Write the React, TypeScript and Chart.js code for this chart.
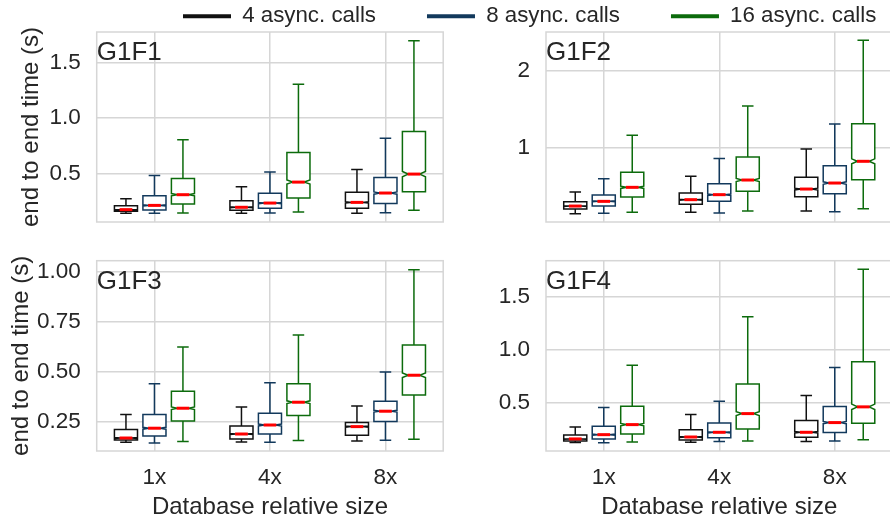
import React, { useEffect, useRef } from 'react';
import { Chart, registerables } from 'chart.js';

Chart.register(...registerables);

// ---------------- data ----------------
const CATEGORIES = ['1x', '4x', '8x'];
const SERIES = ['4 async. calls', '8 async. calls', '16 async. calls'];
const PANEL_TITLES = ['G1F1', 'G1F2', 'G1F3', 'G1F4'];
const Y_TITLE = 'end to end time (s)';
const X_TITLE = 'Database relative size';
const NOTCH_SAMPLES = 1250;

// each stat array: [series][category]
const G1F1_LOW = [[0.145, 0.145, 0.145], [0.145, 0.148, 0.151], [0.148, 0.157, 0.172]];
const G1F1_Q1 = [[0.163, 0.172, 0.19], [0.175, 0.19, 0.234], [0.228, 0.282, 0.339]];
const G1F1_MED = [[0.178, 0.199, 0.243], [0.216, 0.237, 0.327], [0.312, 0.425, 0.497]];
const G1F1_Q3 = [[0.213, 0.258, 0.333], [0.303, 0.324, 0.467], [0.458, 0.691, 0.879]];
const G1F1_HIGH = [[0.276, 0.384, 0.539], [0.485, 0.515, 0.819], [0.804, 1.303, 1.694]];
const G1F1_TICKS = ['0.5', '1.0', '1.5'];
const G1F1_RANGE = [0.067, 1.772];

const G1F2_LOW = [[0.143, 0.16, 0.177], [0.147, 0.152, 0.169], [0.16, 0.177, 0.208]];
const G1F2_Q1 = [[0.203, 0.264, 0.364], [0.242, 0.303, 0.403], [0.359, 0.433, 0.584]];
const G1F2_MED = [[0.242, 0.325, 0.463], [0.303, 0.39, 0.541], [0.485, 0.58, 0.823]];
const G1F2_Q3 = [[0.299, 0.411, 0.615], [0.385, 0.532, 0.766], [0.68, 0.879, 1.312]];
const G1F2_HIGH = [[0.424, 0.628, 0.983], [0.597, 0.861, 1.307], [1.16, 1.541, 2.394]];
const G1F2_TICKS = ['1', '2'];
const G1F2_RANGE = [0.035, 2.502];

const G1F3_LOW = [[0.147, 0.148, 0.153], [0.143, 0.147, 0.157], [0.15, 0.155, 0.162]];
const G1F3_Q1 = [[0.158, 0.163, 0.182], [0.178, 0.188, 0.25], [0.253, 0.28, 0.383]];
const G1F3_MED = [[0.168, 0.188, 0.225], [0.217, 0.233, 0.302], [0.317, 0.347, 0.482]];
const G1F3_Q3 = [[0.21, 0.228, 0.245], [0.285, 0.292, 0.352], [0.402, 0.44, 0.633]];
const G1F3_HIGH = [[0.285, 0.323, 0.328], [0.44, 0.445, 0.498], [0.623, 0.683, 1.01]];
const G1F3_TICKS = ['0.25', '0.50', '0.75', '1.00'];
const G1F3_RANGE = [0.103, 1.055];

const G1F4_LOW = [[0.133, 0.135, 0.141], [0.13, 0.141, 0.147], [0.137, 0.147, 0.159]];
const G1F4_Q1 = [[0.147, 0.156, 0.181], [0.166, 0.178, 0.225], [0.213, 0.259, 0.313]];
const G1F4_MED = [[0.166, 0.184, 0.228], [0.206, 0.228, 0.319], [0.3, 0.403, 0.466]];
const G1F4_Q3 = [[0.203, 0.253, 0.338], [0.284, 0.316, 0.469], [0.472, 0.681, 0.888]];
const G1F4_HIGH = [[0.278, 0.394, 0.572], [0.459, 0.519, 0.834], [0.856, 1.309, 1.753]];
const G1F4_TICKS = ['0.5', '1.0', '1.5'];
const G1F4_RANGE = [0.053, 1.834];

// ---------------- styles ----------------
const FONT = '"Liberation Sans", Arial, Helvetica, sans-serif';
const TEXT = '#262626';
const GRID = '#d6d6d6';
const COLORS = ['#111111', '#12395c', '#0c6b0c'];
const MEDIAN_RED = '#ff0000';

type Stats = { low: number[][]; q1: number[][]; med: number[][]; q3: number[][]; high: number[][] };

type PanelSpec = {
  title: string;
  stats: Stats;
  ticks: string[];
  range: number[];
  left: number;
  top: number;
  width: number;
  height: number;
  pad: { top: number; right: number; bottom: number; left: number };
  yWidth: number;
  xHeight: number;
  showX: boolean;
  showYTitle: boolean;
  yTitlePad: number;
};

const PANELS: PanelSpec[] = [
  {
    title: PANEL_TITLES[0],
    stats: { low: G1F1_LOW, q1: G1F1_Q1, med: G1F1_MED, q3: G1F1_Q3, high: G1F1_HIGH },
    ticks: G1F1_TICKS, range: G1F1_RANGE,
    left: 0, top: 22, width: 450, height: 210,
    pad: { top: 10, right: 6.8, bottom: 10, left: 0 }, yWidth: 96.7, xHeight: 0,
    showX: false, showYTitle: true, yTitlePad: 16.5,
  },
  {
    title: PANEL_TITLES[1],
    stats: { low: G1F2_LOW, q1: G1F2_Q1, med: G1F2_MED, q3: G1F2_Q3, high: G1F2_HIGH },
    ticks: G1F2_TICKS, range: G1F2_RANGE,
    left: 450, top: 22, width: 450, height: 210,
    pad: { top: 10, right: 7.5, bottom: 10, left: 0 }, yWidth: 96, xHeight: 0,
    showX: false, showYTitle: false, yTitlePad: 0,
  },
  {
    title: PANEL_TITLES[2],
    stats: { low: G1F3_LOW, q1: G1F3_Q1, med: G1F3_MED, q3: G1F3_Q3, high: G1F3_HIGH },
    ticks: G1F3_TICKS, range: G1F3_RANGE,
    left: 0, top: 250, width: 450, height: 272,
    pad: { top: 10.7, right: 6.8, bottom: 0, left: 0 }, yWidth: 96.7, xHeight: 71,
    showX: true, showYTitle: true, yTitlePad: 6.5,
  },
  {
    title: PANEL_TITLES[3],
    stats: { low: G1F4_LOW, q1: G1F4_Q1, med: G1F4_MED, q3: G1F4_Q3, high: G1F4_HIGH },
    ticks: G1F4_TICKS, range: G1F4_RANGE,
    left: 450, top: 250, width: 450, height: 272,
    pad: { top: 10.7, right: 7.5, bottom: 0, left: 0 }, yWidth: 96, xHeight: 71,
    showX: true, showYTitle: false, yTitlePad: 0,
  },
];

function makePanel(canvas: HTMLCanvasElement, spec: PanelSpec) {
  const { stats } = spec;
  const tickVals = spec.ticks.map((t) => parseFloat(t));

  const boxPlugin = {
    id: 'boxes_' + spec.title,
    beforeDatasetsDraw(chart: any) {
      const { ctx, chartArea } = chart;
      ctx.save();
      ctx.strokeStyle = GRID;
      ctx.lineWidth = 1.5;
      ctx.strokeRect(chartArea.left, chartArea.top, chartArea.right - chartArea.left, chartArea.bottom - chartArea.top);
      ctx.restore();
    },
    afterDatasetsDraw(chart: any) {
      const { ctx, chartArea } = chart;
      const ys = chart.scales.y;
      ctx.save();
      for (let s = 0; s < SERIES.length; s++) {
        const meta = chart.getDatasetMeta(s);
        meta.data.forEach((bar: any, c: number) => {
          const { x, width } = bar.getProps(['x', 'width'], true);
          const half = width / 2;
          const capHalf = width / 4;
          const q1v = stats.q1[s][c];
          const q3v = stats.q3[s][c];
          const medv = stats.med[s][c];
          const notch = (1.57 * (q3v - q1v)) / Math.sqrt(NOTCH_SAMPLES);
          const pLow = ys.getPixelForValue(stats.low[s][c]);
          const pHigh = ys.getPixelForValue(stats.high[s][c]);
          const pQ1 = ys.getPixelForValue(q1v);
          const pQ3 = ys.getPixelForValue(q3v);
          const pMed = ys.getPixelForValue(medv);
          const pNLo = ys.getPixelForValue(medv - notch);
          const pNHi = ys.getPixelForValue(medv + notch);
          ctx.strokeStyle = COLORS[s];
          ctx.lineWidth = 1.5;
          ctx.lineCap = 'butt';
          // whiskers
          ctx.beginPath();
          ctx.moveTo(x, pQ3);
          ctx.lineTo(x, pHigh);
          ctx.moveTo(x, pQ1);
          ctx.lineTo(x, pLow);
          ctx.moveTo(x - capHalf, pHigh);
          ctx.lineTo(x + capHalf, pHigh);
          ctx.moveTo(x - capHalf, pLow);
          ctx.lineTo(x + capHalf, pLow);
          ctx.stroke();
          // notched box
          ctx.beginPath();
          ctx.moveTo(x - half, pQ1);
          ctx.lineTo(x + half, pQ1);
          ctx.lineTo(x + half, pNLo);
          ctx.lineTo(x + capHalf, pMed);
          ctx.lineTo(x + half, pNHi);
          ctx.lineTo(x + half, pQ3);
          ctx.lineTo(x - half, pQ3);
          ctx.lineTo(x - half, pNHi);
          ctx.lineTo(x - capHalf, pMed);
          ctx.lineTo(x - half, pNLo);
          ctx.closePath();
          ctx.fillStyle = '#ffffff';
          ctx.fill();
          ctx.stroke();
          // median
          ctx.beginPath();
          ctx.strokeStyle = MEDIAN_RED;
          ctx.lineWidth = 3;
          ctx.moveTo(x - capHalf - 0.6, pMed);
          ctx.lineTo(x + capHalf + 0.6, pMed);
          ctx.stroke();
        });
      }
      // panel label
      ctx.fillStyle = TEXT;
      ctx.font = '26px ' + FONT;
      ctx.textAlign = 'left';
      ctx.textBaseline = 'alphabetic';
      ctx.fillText(spec.title, chartArea.left, chartArea.top + 28);
      ctx.restore();
    },
  };

  return new Chart(canvas, {
    type: 'bar',
    data: {
      labels: CATEGORIES,
      datasets: SERIES.map((name, s) => ({
        label: name,
        data: CATEGORIES.map((_, c) => [stats.q1[s][c], stats.q3[s][c]]),
        backgroundColor: 'rgba(0,0,0,0)',
        borderWidth: 0,
        categoryPercentage: 0.74,
        barPercentage: 0.81,
      })),
    },
    options: {
      responsive: false,
      animation: false,
      devicePixelRatio: 1,
      layout: { padding: spec.pad },
      plugins: { legend: { display: false }, tooltip: { enabled: false } },
      scales: {
        x: {
          offset: true,
          afterFit: (scale: any) => {
            scale.height = spec.xHeight;
            scale.paddingLeft = 0;
            scale.paddingRight = 0;
            scale.paddingTop = 0;
            scale.paddingBottom = 0;
          },
          ticks: { display: spec.showX, padding: 13, color: TEXT, font: { size: 22.5, family: FONT } },
          grid: { color: GRID, lineWidth: 1.5, offset: false, drawTicks: false },
          border: { display: false },
          title: {
            display: spec.showX,
            text: X_TITLE,
            color: TEXT,
            font: { size: 24, family: FONT },
            padding: { top: 0, bottom: 0 },
          },
        },
        y: {
          min: spec.range[0],
          max: spec.range[1],
          afterBuildTicks: (scale: any) => {
            scale.ticks = tickVals.map((v) => ({ value: v }));
          },
          afterFit: (scale: any) => {
            scale.width = spec.yWidth;
            scale.paddingTop = 0;
            scale.paddingBottom = 0;
            scale.paddingLeft = 0;
            scale.paddingRight = 0;
          },
          ticks: {
            padding: 16,
            color: TEXT,
            font: { size: 22.5, family: FONT },
            callback: (v: any) => {
              const i = tickVals.findIndex((t) => Math.abs(t - Number(v)) < 1e-9);
              return i >= 0 ? spec.ticks[i] : '';
            },
          },
          grid: { color: GRID, lineWidth: 1.5, drawTicks: false },
          border: { display: false },
          title: {
            display: spec.showYTitle,
            text: Y_TITLE,
            color: TEXT,
            font: { size: 24, family: FONT },
            padding: { top: spec.yTitlePad, bottom: 0 },
          },
        },
      },
    },
    plugins: [boxPlugin],
  } as any);
}

function makeLegend(canvas: HTMLCanvasElement) {
  return new Chart(canvas, {
    type: 'bar',
    data: {
      labels: [],
      datasets: SERIES.map((name, s) => ({
        label: name,
        data: [],
        backgroundColor: COLORS[s],
        borderWidth: 0,
      })),
    },
    options: {
      responsive: false,
      animation: false,
      devicePixelRatio: 1,
      layout: { padding: 0 },
      scales: { x: { display: false }, y: { display: false } },
      plugins: {
        tooltip: { enabled: false },
        legend: {
          display: true,
          position: 'top',
          align: 'start',
          labels: {
            boxWidth: 48,
            boxHeight: 4,
            padding: 51,
            color: TEXT,
            font: { size: 22.3, family: FONT },
          },
        },
      },
    },
  } as any);
}

const LEGEND_BOX = { left: 132, top: -46, width: 900, height: 200 };

export default function App() {
  const legendRef = useRef<HTMLCanvasElement | null>(null);
  const refs = useRef<(HTMLCanvasElement | null)[]>([]);

  useEffect(() => {
    Chart.defaults.font.family = FONT;
    const charts: Chart[] = [];
    if (legendRef.current) charts.push(makeLegend(legendRef.current));
    PANELS.forEach((p, i) => {
      const c = refs.current[i];
      if (c) charts.push(makePanel(c, p));
    });
    return () => {
      charts.forEach((c) => c.destroy());
    };
  }, []);

  return (
    <div
      style={{
        position: 'absolute',
        left: 0,
        top: 0,
        width: 890,
        height: 519,
        overflow: 'hidden',
        background: '#ffffff',
      }}
    >
      <canvas
        ref={legendRef}
        width={LEGEND_BOX.width}
        height={LEGEND_BOX.height}
        style={{
          position: 'absolute',
          left: LEGEND_BOX.left,
          top: LEGEND_BOX.top,
          width: LEGEND_BOX.width,
          height: LEGEND_BOX.height,
        }}
      />
      {PANELS.map((p, i) => (
        <canvas
          key={p.title}
          ref={(el) => {
            refs.current[i] = el;
          }}
          width={p.width}
          height={p.height}
          style={{ position: 'absolute', left: p.left, top: p.top, width: p.width, height: p.height }}
        />
      ))}
    </div>
  );
}
